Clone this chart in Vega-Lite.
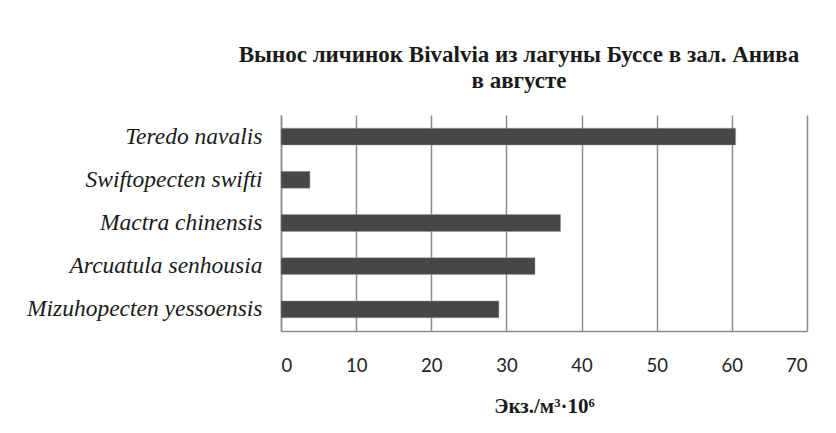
{
  "$schema": "https://vega.github.io/schema/vega-lite/v6.json",
  "autosize": {"type": "none"},
  "width": 526,
  "height": 216,
  "padding": {"left": 281, "top": 115, "right": 29, "bottom": 102},
  "background": "white",
  "title": {
    "text": ["Вынос личинок Bivalvia из лагуны Буссе в зал. Анива", "в августе"],
    "font": "Liberation Serif",
    "fontSize": 23,
    "fontWeight": "bold",
    "lineHeight": 26,
    "color": "#1a1a1a",
    "anchor": "middle",
    "dx": -25,
    "offset": 22
  },
  "data": {
    "values": [
      {"species": "Teredo navalis", "value": 60.5},
      {"species": "Swiftopecten swifti", "value": 3.85},
      {"species": "Mactra chinensis", "value": 37.2},
      {"species": "Arcuatula senhousia", "value": 33.8},
      {"species": "Mizuhopecten yessoensis", "value": 29.0}
    ]
  },
  "mark": {"type": "bar", "color": "#464749", "stroke": "#9a9a9a", "strokeWidth": 0.5},
  "encoding": {
    "y": {
      "field": "species",
      "type": "nominal",
      "sort": null,
      "scale": {"paddingInner": 0.61, "paddingOuter": 0.305},
      "axis": {
        "title": null,
        "labelFont": "Liberation Serif",
        "labelFontStyle": "italic",
        "labelFontSize": 23.5,
        "labelColor": "#1a1a1a",
        "labelPadding": 19,
        "ticks": false,
        "domainColor": "#8c8c8c",
        "domainWidth": 1.5,
        "grid": false,
        "labelLimit": 300
      }
    },
    "x": {
      "field": "value",
      "type": "quantitative",
      "scale": {"domain": [0, 70], "nice": false},
      "axis": {
        "values": [0, 10, 20, 30, 40, 50, 60, 70],
        "title": "Экз./м³·10⁶",
        "titleFont": "Liberation Serif",
        "titleFontSize": 21,
        "titleFontWeight": "bold",
        "titleColor": "#1a1a1a",
        "titlePadding": 21,
        "labelFont": "Lato",
        "labelFontSize": 18.5,
        "labelColor": "#222222",
        "labelPadding": 25,
        "ticks": false,
        "domainColor": "#8c8c8c",
        "domainWidth": 1.5,
        "grid": true,
        "gridColor": "#8c8c8c",
        "gridWidth": 1.5
      }
    }
  },
  "config": {"view": {"stroke": null}}
}
